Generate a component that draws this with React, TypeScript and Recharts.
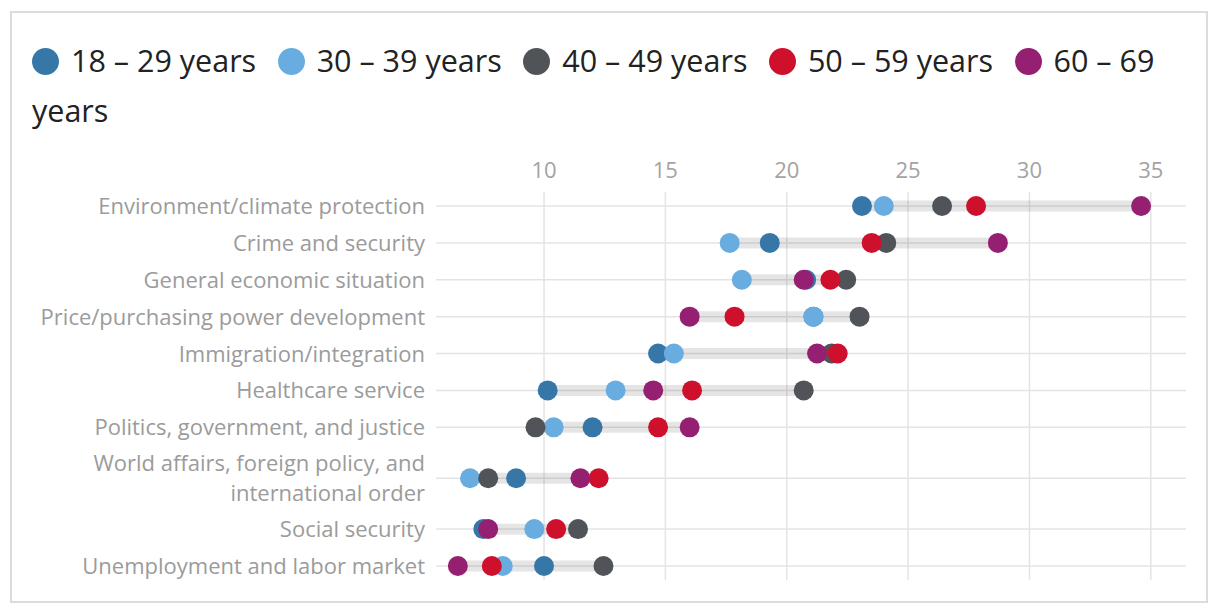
import { Fragment } from "react";
import {
  Bar,
  CartesianGrid,
  ComposedChart,
  Scatter,
  XAxis,
  YAxis,
} from "recharts";

const topics = [
  "Environment/climate protection",
  "Crime and security",
  "General economic situation",
  "Price/purchasing power development",
  "Immigration/integration",
  "Healthcare service",
  "Politics, government, and justice",
  "World affairs, foreign policy, and international order",
  "Social security",
  "Unemployment and labor market",
];

const age18to29 = [23.1, 19.3, 20.8, 21.1, 14.7, 10.15, 12.0, 8.85, 7.5, 10.0];
const age30to39 = [24.0, 17.65, 18.15, 21.1, 15.35, 12.95, 10.4, 6.95, 9.6, 8.3];
const age40to49 = [26.4, 24.1, 22.45, 23.0, 21.85, 20.7, 9.65, 7.7, 11.4, 12.45];
const age50to59 = [27.8, 23.5, 21.8, 17.85, 22.1, 16.1, 14.7, 12.25, 10.5, 7.85];
const age60to69 = [34.6, 28.7, 20.7, 16.0, 21.25, 14.5, 16.0, 11.5, 7.7, 6.45];

const xTicks = [10, 15, 20, 25, 30, 35];

const seriesKeys = ["a18", "a30", "a40", "a50", "a60"];
const seriesLabels = [
  "18 – 29 years",
  "30 – 39 years",
  "40 – 49 years",
  "50 – 59 years",
  "60 – 69 years",
];
const seriesColors = ["#3777a8", "#69ade0", "#505358", "#cf102d", "#951f70"];

const FONT = '"Open Sans", "Noto Sans", sans-serif';
const LABEL_CHARS = 36;
const LINE_H = 30;
const ROW_PAD = 0.38; // extra room (in rows) above/below for each wrapped line

// greedy word wrap by character count, long labels go on two lines
const wrapLabel = (s: string, max: number) => {
  const out: string[] = [];
  let cur = "";
  for (const w of s.split(" ")) {
    if (cur && (cur + " " + w).length > max) {
      out.push(cur);
      cur = w;
    } else {
      cur = cur ? cur + " " + w : w;
    }
  }
  if (cur) out.push(cur);
  return out;
};

// rows with two-line labels get a bit more height, like the original layout
const labelLines = topics.map((t) => wrapLabel(t, LABEL_CHARS));
let cursor = 0;
const slots = labelLines.map((lines) => {
  const half = (lines.length - 1) * ROW_PAD;
  cursor += half;
  const s = cursor;
  cursor += 1 + half;
  return s;
});

const rows = topics.map((topic, i) => {
  const vals = [age18to29[i], age30to39[i], age40to49[i], age50to59[i], age60to69[i]];
  return {
    topic,
    slot: slots[i],
    a18: age18to29[i],
    a30: age30to39[i],
    a40: age40to49[i],
    a50: age50to59[i],
    a60: age60to69[i],
    span: [Math.min(...vals), Math.max(...vals)],
  };
});

function TopicTick(props: any) {
  const { x, y, payload } = props;
  const idx = slots.indexOf(payload.value);
  const lines = idx >= 0 ? labelLines[idx] : [String(payload.value)];
  return (
    <text
      x={x}
      y={y}
      textAnchor="end"
      fill="#9b9b9b"
      fontSize={22}
      fontFamily={FONT}
    >
      {lines.map((line, k) => (
        <tspan
          key={k}
          x={x}
          dy={k === 0 ? ((1 - lines.length) / 2) * LINE_H + 8 : LINE_H}
        >
          {line}
        </tspan>
      ))}
    </text>
  );
}

function AgeLegend() {
  return (
    <div
      style={{
        position: "absolute",
        left: 20,
        top: 22,
        width: 1160,
        fontFamily: FONT,
        fontSize: 30.5,
        lineHeight: "50px",
        color: "#222",
      }}
    >
      {seriesLabels.map((label, i) => (
        <Fragment key={label}>
          <span
            style={{
              display: "inline-block",
              width: 27,
              height: 27,
              borderRadius: "50%",
              background: seriesColors[i],
              verticalAlign: "middle",
              position: "relative",
              top: -2,
              marginRight: 12,
            }}
          />
          <span style={{ marginRight: 21.5 }}>{label}</span>
        </Fragment>
      ))}
    </div>
  );
}

export default function App() {
  return (
    <div
      style={{
        position: "relative",
        marginLeft: 2,
        marginTop: 3,
        width: 1198,
        height: 592,
        border: "2px solid #dcdcdc",
        boxSizing: "border-box",
        background: "#fff",
      }}
    >
      <AgeLegend />
      <div style={{ position: "absolute", left: 0, top: 0 }}>
        <ComposedChart
          layout="vertical"
          width={1194}
          height={588}
          data={rows}
          margin={{ top: 139, right: 20, bottom: 21, left: 0 }}
        >
          <CartesianGrid stroke="#e4e4e4" strokeWidth={1.5} syncWithTicks />
          <XAxis
            type="number"
            orientation="top"
            domain={[5.55, 36.45]}
            ticks={xTicks}
            interval={0}
            allowDataOverflow
            axisLine={false}
            tickLine={false}
            tickSize={0}
            tickMargin={14}
            height={40}
            tick={{ fill: "#a3a3a3", fontSize: 22, fontFamily: FONT }}
          />
          <YAxis
            type="number"
            dataKey="slot"
            domain={[-ROW_PAD, slots[slots.length - 1] + ROW_PAD]}
            ticks={slots}
            interval={0}
            allowDataOverflow
            width={424}
            axisLine={false}
            tickLine={false}
            tickSize={0}
            tickMargin={11}
            tick={<TopicTick />}
          />
          <Bar
            dataKey="span"
            barSize={11}
            fill="#000"
            fillOpacity={0.1}
            isAnimationActive={false}
          />
          {seriesKeys.map((key, i) => (
            <Scatter
              key={key}
              dataKey={key}
              name={seriesLabels[i]}
              fill={seriesColors[i]}
              isAnimationActive={false}
              shape={(p: any) => (
                <circle cx={p.cx} cy={p.cy} r={10} fill={seriesColors[i]} />
              )}
            />
          ))}
        </ComposedChart>
      </div>
    </div>
  );
}
